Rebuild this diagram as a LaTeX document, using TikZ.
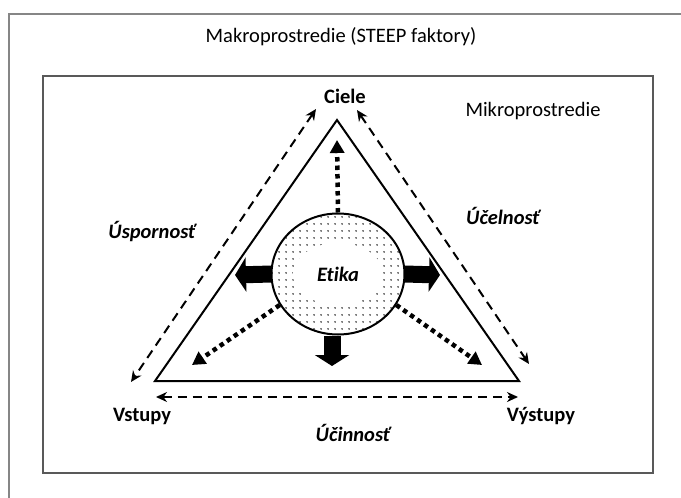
\documentclass[tikz,border=0pt]{standalone}
\usepackage{xcolor}
\usepackage{fontspec}
\setmainfont{Carlito}[Ligatures=NoCommon]
\usepackage{tikz}
\usetikzlibrary{arrows.meta, positioning, shapes.geometric, patterns.meta}

\begin{document}
\begin{tikzpicture}[x=1pt, y=-1pt, font=\fontsize{20.5}{24}\selectfont, >=Stealth,
  lbl/.style   = {inner sep=0pt, align=center},
  vtx/.style   = {lbl, font=\fontsize{20.5}{24}\selectfont\bfseries},
  crit/.style  = {lbl, font=\fontsize{20.5}{24}\selectfont\bfseries\itshape},
  frame/.style = {line width=2pt},
  flow/.style  = {line width=2pt, dash pattern=on 9pt off 6pt,
                  {Stealth[length=11pt,width=10pt]}-{Stealth[length=11pt,width=10pt]}},
  block/.style = {line width=17pt, -{Triangle[length=11pt,width=34pt]}},
  dots/.style  = {line width=4.5pt, dash pattern=on 4.5pt off 4pt,
                  -{Triangle[length=13pt,width=14pt]}},
  core/.style  = {ellipse, draw, line width=2pt, minimum width=133pt, minimum height=121pt,
                  inner sep=0pt, preaction={fill=white},
                  pattern={Dots[distance=6.5pt, radius=0.85pt]},
                  path picture={\fill[white] (path picture bounding box.center)
                                ellipse [x radius=45pt, y radius=31pt];}}
]
\useasboundingbox (0,0) rectangle (681,498);
\clip (0,0) rectangle (681,498);

%% Environments
\draw[frame, gray!95] (9,14) rectangle (720,540);
\draw[frame, black!65] (43,76) rectangle (653,473);
\node[lbl] (makro) at (341,37)  {Makroprostredie (STEEP faktory)};
\node[lbl] (mikro) at (533,111) {Mikroprostredie};

%% --- Triangle ---
\coordinate (top)   at (337,120);
\coordinate (left)  at (155,381);
\coordinate (right) at (519,381);
\draw[line width=2pt] (top) -- (left) -- (right) -- cycle;

%% --- Corners ---
\node[vtx] (ciele)   at (345,96)  {Ciele};
\node[vtx] (vstupy)  at (142,416) {Vstupy};
\node[vtx] (vystupy) at (541,416) {Výstupy};

%% --- Criteria ---
\node[crit] (usp) at (152,232) {Úspornosť};
\node[crit] (uce) at (503,216) {Účelnosť};
\node[crit] (uci) at (353,433) {Účinnosť};

%% --- Dashed flows along the sides ---
\coordinate (ltop) at (316,109);
\coordinate (lbot) at (131,382);
\coordinate (rtop) at (357,110);
\coordinate (rbot) at (529,364);
\coordinate (bl)   at (156,397);
\coordinate (br)   at (518,397);
\draw[flow] (ltop) -- (lbot);
\draw[flow] (rtop) -- (rbot);
\draw[flow] (bl) -- (br);

%% --- Ethics core ---
\node[core] (etika) at (338,274) {};
\node[crit] (etikat) at (etika.center) {Etika};

%% --- Block arrows ---
\coordinate (wtip) at (235,275);
\coordinate (etip) at (440,275);
\coordinate (stip) at (332,366);
\draw[block] ([xshift=1pt]etika.west) -- (wtip);
\draw[block] ([xshift=-1pt]etika.east) -- (etip);
\draw[block] (etika.south -| stip) -- (stip);

%% --- Dotted arrows ---
\coordinate (utip)  at (337,140);
\coordinate (dltip) at (192,365);
\coordinate (drtip) at (482,365);
\draw[dots] (etika.north) -- (utip);
\draw[dots] (etika.208) -- (dltip);
\draw[dots] (etika.-28) -- (drtip);
\end{tikzpicture}
\end{document}
